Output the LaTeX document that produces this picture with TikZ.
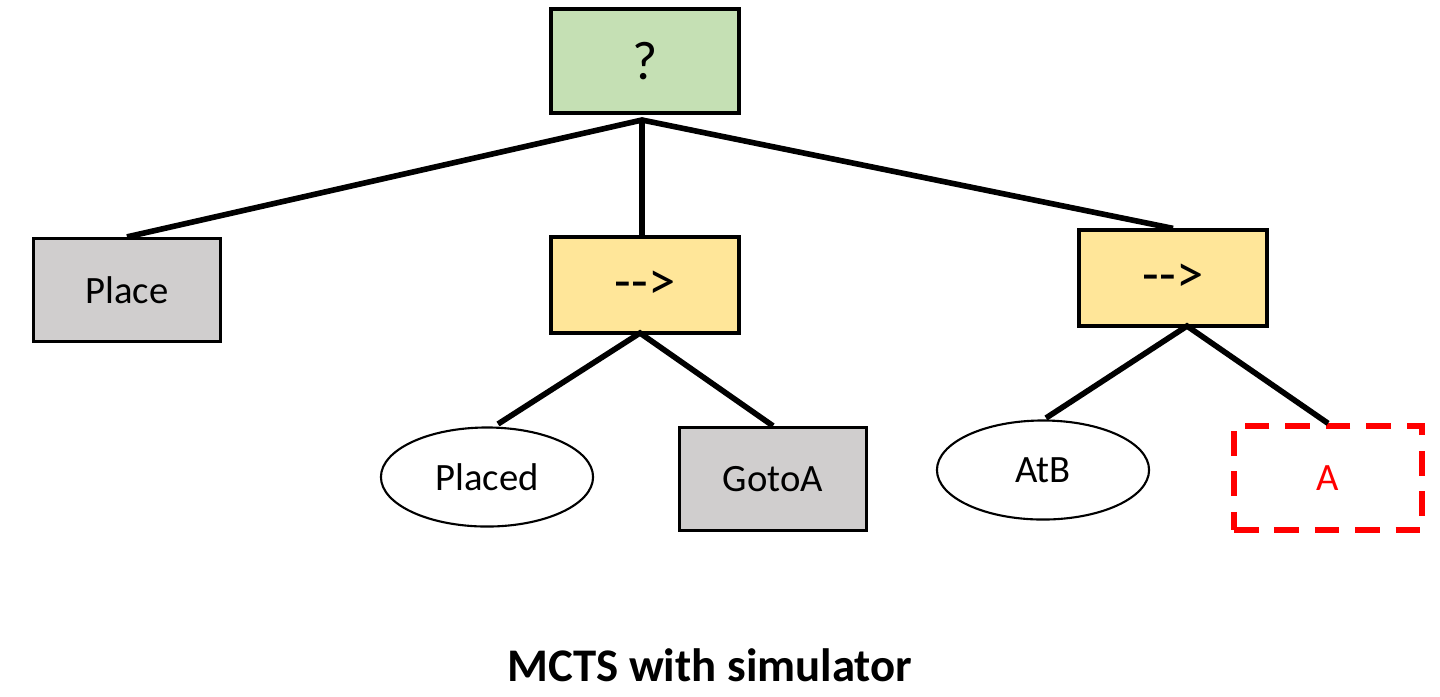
\documentclass[tikz,border=0pt]{standalone}
\usepackage{fontspec}
\setmainfont{Carlito}
\usetikzlibrary{shapes.geometric}
\definecolor{selgreen}{HTML}{C5E0B4}
\definecolor{seqyellow}{HTML}{FFE699}
\definecolor{actgray}{HTML}{D0CECE}
\begin{document}
\begin{tikzpicture}[x=0.01cm, y=-0.01cm,
    ctrl/.style={draw, line width=0.9pt, minimum width=1.88cm, font=\fontsize{15.5}{17}\selectfont},
    action/.style={draw, line width=0.9pt, fill=actgray, minimum width=1.87cm, minimum height=1.03cm, font=\fontsize{11}{13}\selectfont},
    cond/.style={draw, ellipse, line width=0.6pt, inner sep=0pt, minimum width=2.12cm, minimum height=0.99cm, font=\fontsize{11}{13}\selectfont},
    missing/.style={draw=red, dash pattern=on 7pt off 4.5pt, line width=1.5pt, text=red, minimum width=1.88cm, minimum height=1.04cm, font=\fontsize{11}{13}\selectfont},
    edge/.style={line width=1.6pt}]
    \useasboundingbox (0, 0) rectangle (1440, 696);
    %\draw[lightgray] (0, 0) grid[step=100] (1440, 696);
    \node[ctrl, fill=selgreen, minimum height=1.04cm] (root) at (645, 61) {?};
    \node[action] (place) at (127, 290) {Place};
    \node[ctrl, fill=seqyellow, minimum height=0.96cm] (seqA) at (645, 285) {-{}-{}>};
    \node[ctrl, fill=seqyellow, minimum height=0.96cm] (seqB) at (1173, 278) {-{}-{}>};
    \node[cond] (placed) at (487, 477) {Placed};
    \node[action] (gotoa) at (773, 479) {GotoA};
    \node[cond] (atb) at (1043, 470) {AtB};
    \node[missing] (goalA) at (1328, 478) {A};
    \coordinate (rootJ) at (642, 120);
    \coordinate (seqAJ) at (640, 333);
    \coordinate (seqBJ) at (1187, 326);
    \coordinate (placedT) at (498, 424);
    \coordinate (atbT) at (1046, 418);
    \draw[edge] (place.north) -- (rootJ) -- (seqB.north);
    \draw[edge] (rootJ) -- (rootJ |- seqA.north);
    \draw[edge] (placedT) -- (seqAJ) -- (gotoa.north);
    \draw[edge] (atbT) -- (seqBJ) -- (goalA.north);
    \node[font=\fontsize{13.3}{15}\selectfont\bfseries] (title) at (710, 665) {MCTS with simulator};
\end{tikzpicture}
\end{document}
